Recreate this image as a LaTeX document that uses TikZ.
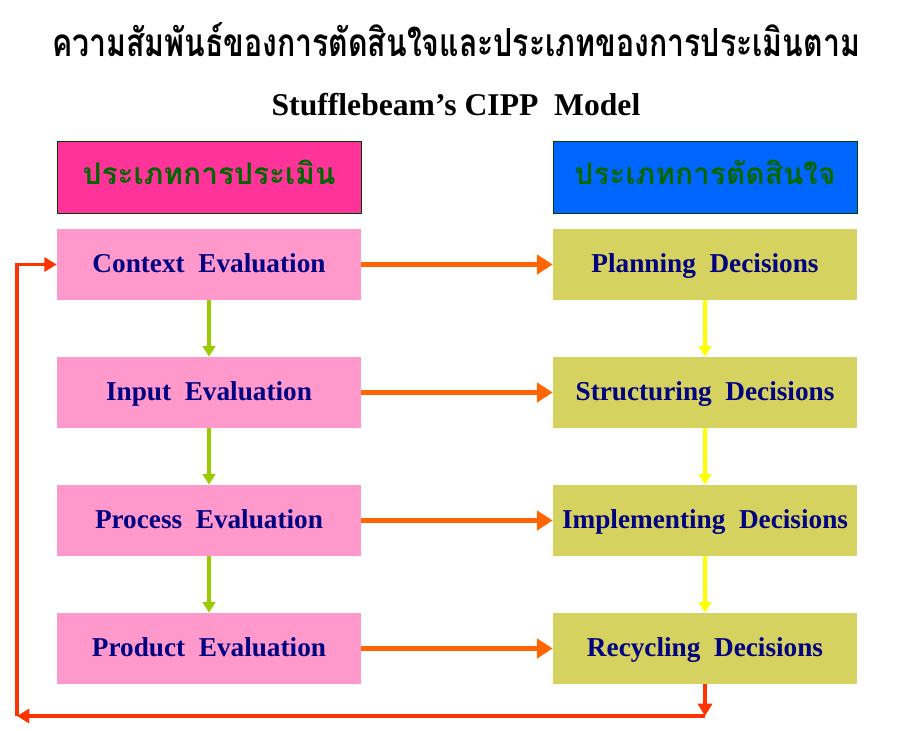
\documentclass[tikz,border=0pt]{standalone}
\usepackage{fontspec}
\setmainfont{Liberation Serif}
\newfontfamily\thaifont[Script=Thai]{Loma}
\usepackage{tikz}
\usetikzlibrary{positioning,arrows.meta}

\definecolor{headpink}{RGB}{255,51,153}
\definecolor{headblue}{RGB}{0,102,255}
\definecolor{headgreen}{RGB}{0,102,0}
\definecolor{evalpink}{RGB}{255,153,204}
\definecolor{decolive}{RGB}{214,210,96}
\definecolor{labelnavy}{RGB}{0,0,128}
\definecolor{flowgreen}{RGB}{153,204,0}
\definecolor{flowyellow}{RGB}{255,255,0}
\definecolor{floworange}{RGB}{255,102,0}
\definecolor{loopred}{RGB}{255,51,0}

\begin{document}
\begin{tikzpicture}[
            box/.style={inner sep=0, minimum width=6.08cm, minimum height=1.42cm,
                text height=0.9em, text depth=0pt,
                font=\fontsize{15.5}{18}\selectfont\bfseries, text=labelnavy},
            evalbox/.style={box, fill=evalpink},
            decbox/.style={box, fill=decolive},
            headbox/.style={box, minimum height=1.44cm, draw=headgreen!60!black, thin,
                text height=0.8em, font=\thaifont\fontsize{17}{20}\selectfont\bfseries, text=headgreen},
            across/.style={-{Triangle[length=9pt, width=11pt]}, line width=2.8pt, floworange},
            down/.style={-{Triangle[length=6pt, width=7pt]}, line width=1.8pt},
            loop/.style={-{Triangle[length=7pt, width=8pt]}, line width=1.8pt, loopred},
            node distance=2.56cm]
        \useasboundingbox (0,0) rectangle (18.28,-14.6);

        \node (title) at (9.12,-0.8) {\resizebox{16.16cm}{0.68cm}{\thaifont\bfseries ความสัมพันธ์ของการตัดสินใจและประเภทของการประเมินตาม}};
        \node (model) at (9.12,-2.1) {\fontsize{18}{22}\selectfont\bfseries Stufflebeam's~CIPP~~Model};

        \node (evalhead) [headbox, fill=headpink] at (4.18,-3.54) {ประเภทการประเมิน};
        \node (dechead) [headbox, fill=headblue] at (14.1,-3.54) {ประเภทการตัดสินใจ};

        \node (ctx) [evalbox] at (4.18,-5.29) {Context~~Evaluation};
        \node (inp) [evalbox, below of=ctx] {Input~~Evaluation};
        \node (proc) [evalbox, below of=inp] {Process~~Evaluation};
        \node (prod) [evalbox, below of=proc] {Product~~Evaluation};

        \node (plan) [decbox] at (14.1,-5.29) {Planning~~Decisions};
        \node (struct) [decbox, below of=plan] {Structuring~~Decisions};
        \node (impl) [decbox, below of=struct] {Implementing~~Decisions};
        \node (recy) [decbox, below of=impl] {Recycling~~Decisions};

        \draw [across] (ctx) -- (plan);
        \draw [across] (inp) -- (struct);
        \draw [across] (proc) -- (impl);
        \draw [across] (prod) -- (recy);

        \draw [down, flowgreen] (ctx) -- (inp);
        \draw [down, flowgreen] (inp) -- (proc);
        \draw [down, flowgreen] (proc) -- (prod);
        \draw [down, flowyellow] (plan) -- (struct);
        \draw [down, flowyellow] (struct) -- (impl);
        \draw [down, flowyellow] (impl) -- (recy);

        % feedback from recycling back to context
        \coordinate (turn) at (14.1,-14.32);
        \coordinate (corner) at (0.34,-14.32);
        \draw [loop] (recy) -- (turn);
        \draw [loop] (turn) -- (corner);
        \draw [loop] (corner) |- (ctx);
    \end{tikzpicture}
\end{document}
